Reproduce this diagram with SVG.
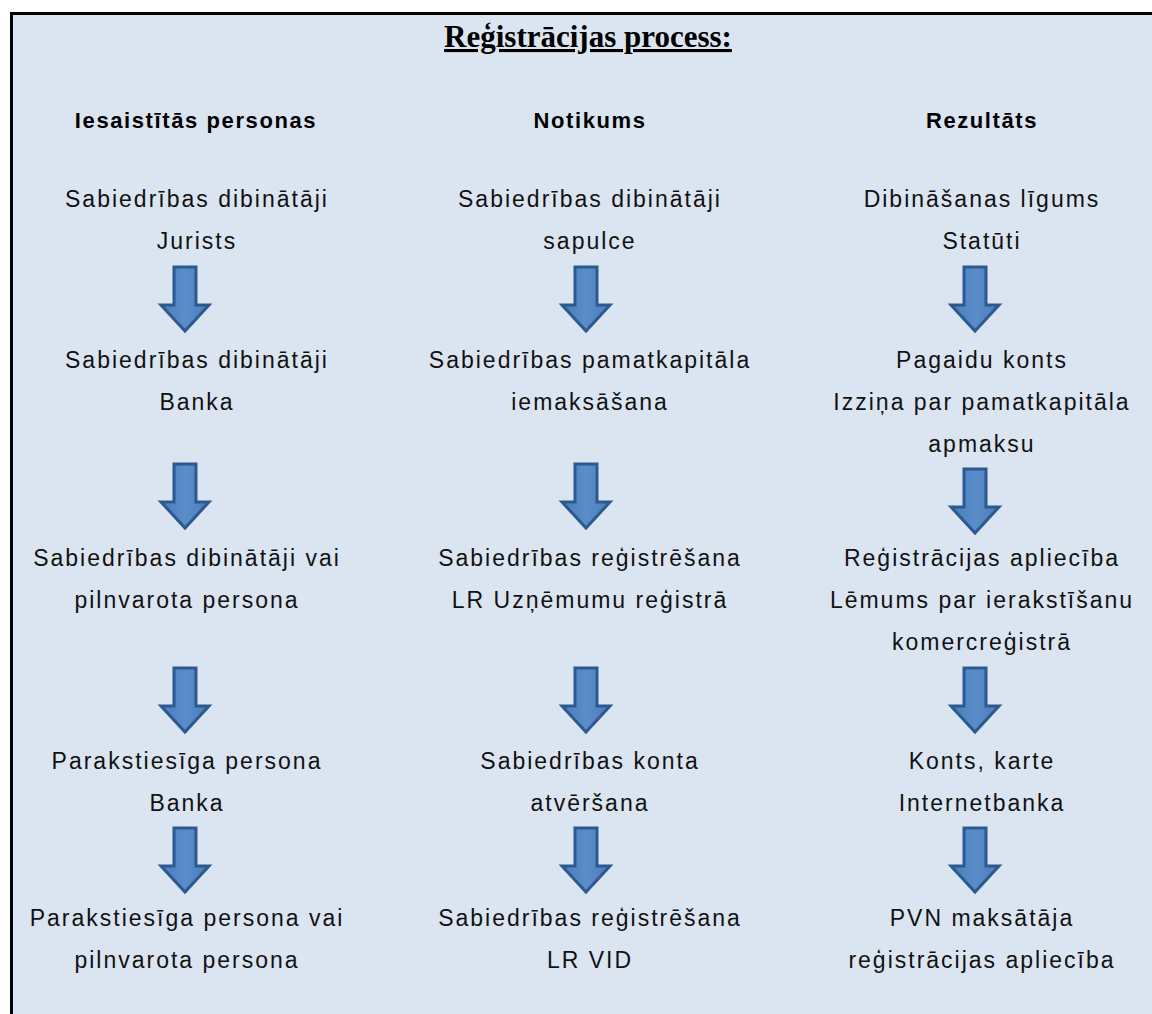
<svg xmlns="http://www.w3.org/2000/svg" width="1152" height="1014" viewBox="0 0 1152 1014">
  <style>
    .title { font-family: "Liberation Serif", serif; font-weight: bold; font-size: 31px; fill: #000; text-anchor: middle; text-decoration: underline; }
    .head { font-family: "Liberation Sans", Arial, sans-serif; font-weight: bold; font-size: 22px; letter-spacing: 1.6px; fill: #000; text-anchor: middle; }
    .txt { font-family: "Liberation Sans", Arial, sans-serif; font-size: 23px; letter-spacing: 2px; fill: #111; text-anchor: middle; }
    .arrow { fill: url(#arrowFill); stroke: #2c5a8f; stroke-width: 3; stroke-linejoin: miter; }
  </style>
  <defs>
    <linearGradient id="arrowFill" x1="0" y1="0" x2="1" y2="0">
      <stop offset="0" stop-color="#4a7cb8"/>
      <stop offset="0.5" stop-color="#5b8dcb"/>
      <stop offset="1" stop-color="#4a7cb8"/>
    </linearGradient>
    <!-- block arrow pointing down, origin at top centre -->
    <path id="downArrow" class="arrow" d="M-11,0 H11 V38 H24 L0,64 L-24,38 H-11 Z"/>
  </defs>

  <!-- panel: only the top and left edges fall inside the page -->
  <rect x="0" y="0" width="1152" height="1014" fill="#ffffff"/>
  <rect x="11.5" y="13.5" width="1200" height="1060" fill="#dbe5f1" stroke="#000" stroke-width="3"/>

  <text class="title" x="588" y="47">Reģistrācijas process:</text>

  <g id="headers">
    <text class="head" x="196" y="128">Iesaistītās personas</text>
    <text class="head" x="590" y="128">Notikums</text>
    <text class="head" x="982" y="128">Rezultāts</text>
  </g>

  <!-- column 1: involved persons -->
  <g id="p1"><text class="txt" x="197" y="207">Sabiedrības dibinātāji</text><text class="txt" x="197" y="249">Jurists</text></g>
  <g id="p2"><text class="txt" x="197" y="368">Sabiedrības dibinātāji</text><text class="txt" x="197" y="410">Banka</text></g>
  <g id="p3"><text class="txt" x="187" y="566">Sabiedrības dibinātāji vai</text><text class="txt" x="187" y="608">pilnvarota persona</text></g>
  <g id="p4"><text class="txt" x="187" y="769">Parakstiesīga persona</text><text class="txt" x="187" y="811">Banka</text></g>
  <g id="p5"><text class="txt" x="187" y="926">Parakstiesīga persona vai</text><text class="txt" x="187" y="968">pilnvarota persona</text></g>

  <!-- column 2: events -->
  <g id="e1"><text class="txt" x="590" y="207">Sabiedrības dibinātāji</text><text class="txt" x="590" y="249">sapulce</text></g>
  <g id="e2"><text class="txt" x="590" y="368">Sabiedrības pamatkapitāla</text><text class="txt" x="590" y="410">iemaksāšana</text></g>
  <g id="e3"><text class="txt" x="590" y="566">Sabiedrības reģistrēšana</text><text class="txt" x="590" y="608">LR Uzņēmumu reģistrā</text></g>
  <g id="e4"><text class="txt" x="590" y="769">Sabiedrības konta</text><text class="txt" x="590" y="811">atvēršana</text></g>
  <g id="e5"><text class="txt" x="590" y="926">Sabiedrības reģistrēšana</text><text class="txt" x="590" y="968">LR VID</text></g>

  <!-- column 3: results -->
  <g id="r1"><text class="txt" x="982" y="207">Dibināšanas līgums</text><text class="txt" x="982" y="249">Statūti</text></g>
  <g id="r2"><text class="txt" x="982" y="368">Pagaidu konts</text><text class="txt" x="982" y="410">Izziņa par pamatkapitāla</text><text class="txt" x="982" y="452">apmaksu</text></g>
  <g id="r3"><text class="txt" x="982" y="566">Reģistrācijas apliecība</text><text class="txt" x="982" y="608">Lēmums par ierakstīšanu</text><text class="txt" x="982" y="650">komercreģistrā</text></g>
  <g id="r4"><text class="txt" x="982" y="769">Konts, karte</text><text class="txt" x="982" y="811">Internetbanka</text></g>
  <g id="r5"><text class="txt" x="982" y="926">PVN maksātāja</text><text class="txt" x="982" y="968">reģistrācijas apliecība</text></g>

  <g id="connectors">
    <use href="#downArrow" x="185" y="267"/>
    <use href="#downArrow" x="185" y="464"/>
    <use href="#downArrow" x="185" y="668"/>
    <use href="#downArrow" x="185" y="828"/>
    <use href="#downArrow" x="586" y="267"/>
    <use href="#downArrow" x="586" y="464"/>
    <use href="#downArrow" x="586" y="668"/>
    <use href="#downArrow" x="586" y="828"/>
    <use href="#downArrow" x="975" y="267"/>
    <use href="#downArrow" x="975" y="469"/>
    <use href="#downArrow" x="975" y="668"/>
    <use href="#downArrow" x="975" y="828"/>
  </g>
</svg>
